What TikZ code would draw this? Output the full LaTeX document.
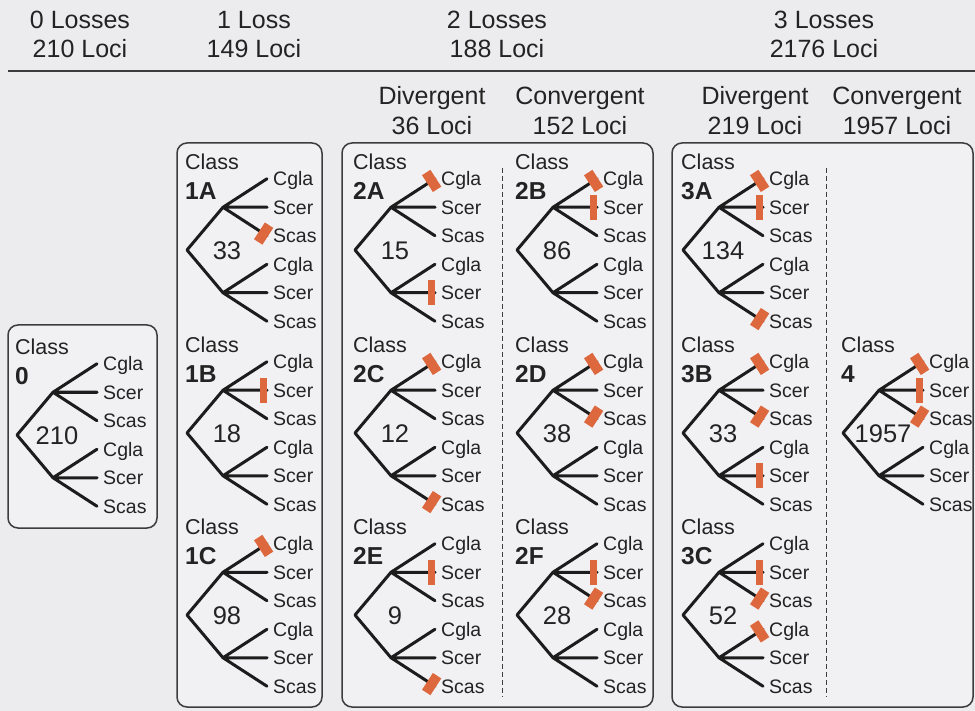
\documentclass[tikz,border=0pt]{standalone}
\usepackage{fontspec}
\setmainfont{Liberation Sans}
\usetikzlibrary{calc}
\definecolor{bg}{RGB}{236,236,238}
\definecolor{boxfill}{RGB}{241,241,243}
\definecolor{ink}{RGB}{28,28,28}
\definecolor{txt}{RGB}{35,35,35}
\definecolor{loss}{RGB}{221,104,62}
\definecolor{frame}{RGB}{60,60,60}
\tikzset{
 branch/.style={line width=3pt, draw=ink, line cap=round, line join=round},
 leaflbl/.style={anchor=west, inner sep=0pt, text height=14pt, text depth=0pt, font=\fontsize{19.5}{21}\selectfont, text=txt},
 classlbl/.style={anchor=west, inner sep=0pt, text height=15.5pt, text depth=0pt, font=\fontsize{21.5}{23}\selectfont, text=txt},
 classid/.style={anchor=west, inner sep=0pt, text height=17.5pt, text depth=0pt, font=\fontsize{24.5}{26}\selectfont\bfseries, text=txt},
 countlbl/.style={inner sep=0pt, text height=18.3pt, text depth=0pt, font=\fontsize{25.5}{27}\selectfont, text=txt},
 hdr/.style={inner sep=0pt, text height=18pt, text depth=0pt, font=\fontsize{25}{27}\selectfont, text=txt},
 groupbox/.style={draw=frame, line width=1.5pt, rounded corners=10pt, fill=boxfill},
 divider/.style={draw=frame, line width=1pt, dash pattern=on 5pt off 3pt},
 rule/.style={draw=frame, line width=2pt},
 lossslant/.style={draw=loss, line width=10pt},
 lossbar/.style={draw=loss, line width=7pt},
}
% tree: #1 name, #2 root x, #3 root y, #4 class id, #5 count
\newcommand\phylo[5]{%
\begin{scope}[shift={(#2,#3)}]
 \coordinate (#1-r) at (0,0);
 \coordinate (#1-u) at (36,-42.75);
 \coordinate (#1-d) at (36,42.75);
 \coordinate (#1-1) at (80,-71.25);
 \coordinate (#1-2) at (80,-42.75);
 \coordinate (#1-3) at (80,-14.25);
 \coordinate (#1-4) at (80,14.25);
 \coordinate (#1-5) at (80,42.75);
 \coordinate (#1-6) at (80,71.25);
 \draw[branch] (#1-u) -- (#1-r) -- (#1-d);
 \draw[branch] (#1-1) -- (#1-u) -- (#1-3) (#1-u) -- (#1-2);
 \draw[branch] (#1-4) -- (#1-d) -- (#1-6) (#1-d) -- (#1-5);
 \node[leaflbl] (#1-L1) at (86,-71.25) {Cgla};
 \node[leaflbl] (#1-L2) at (86,-42.75) {Scer};
 \node[leaflbl] (#1-L3) at (86,-14.25) {Scas};
 \node[leaflbl] (#1-L4) at (86,14.25) {Cgla};
 \node[leaflbl] (#1-L5) at (86,42.75) {Scer};
 \node[leaflbl] (#1-L6) at (86,71.25) {Scas};
 \node[classlbl] (#1-c) at (-2,-88) {Class};
 \node[classid] (#1-id) at (-2,-59) {#4};
 \node[countlbl] (#1-n) at (40,0) {#5};
\end{scope}}
% slanted loss mark: #1 tree, #2 leaf, #3 internal node
\newcommand\slantloss[3]{%
 \coordinate (#1-m#2) at ($(#1-#2)!4pt!(#1-#3)$);
 \draw[lossslant] ($(#1-m#2)!10pt!90:(#1-#3)$) -- ($(#1-m#2)!10pt!-90:(#1-#3)$);}
% Scer loss bar
\newcommand\barloss[3]{%
 \coordinate (#1-m#2) at ($(#1-#2)!4pt!(#1-#3)$);
 \draw[lossbar] ($(#1-m#2)!12.5pt!90:(#1-#3)$) -- ($(#1-m#2)!12.5pt!-90:(#1-#3)$);}
\begin{document}
\begin{tikzpicture}[x=1pt,y=-1pt]
\useasboundingbox (0,0) rectangle (975,711);
\fill[bg] (0,0) rectangle (975,711);
% header
\node[hdr] (h0a) at (80,20) {0 Losses};
\node[hdr] (h0b) at (80,49) {210 Loci};
\node[hdr] (h1a) at (254,20) {1 Loss};
\node[hdr] (h1b) at (254,49) {149 Loci};
\node[hdr] (h2a) at (497,20) {2 Losses};
\node[hdr] (h2b) at (497,49) {188 Loci};
\node[hdr] (h3a) at (824,20) {3 Losses};
\node[hdr] (h3b) at (824,49) {2176 Loci};
\coordinate (ruleL) at (8,71);
\coordinate (ruleR) at (975,71);
\draw[rule] (ruleL) -- (ruleR);
\node[hdr] (h2da) at (432,96) {Divergent};
\node[hdr] (h2db) at (432,126) {36 Loci};
\node[hdr] (h2ca) at (580,96) {Convergent};
\node[hdr] (h2cb) at (580,126) {152 Loci};
\node[hdr] (h3da) at (755,96) {Divergent};
\node[hdr] (h3db) at (755,126) {219 Loci};
\node[hdr] (h3ca) at (897,96) {Convergent};
\node[hdr] (h3cb) at (897,126) {1957 Loci};
% boxes
\draw[groupbox] (8,325) rectangle (157,528);
\draw[groupbox] (177,143) rectangle (322,707);
\draw[groupbox] (342,143) rectangle (653,707);
\draw[groupbox] (672,143) rectangle (973,707);
\coordinate (dv2t) at (502,168);
\coordinate (dv2b) at (502,697);
\coordinate (dv3t) at (826,168);
\coordinate (dv3b) at (826,697);
\draw[divider] (dv2t) -- (dv2b);
\draw[divider] (dv3t) -- (dv3b);
% trees
\phylo{t0}{17}{435}{0}{210}
\phylo{t1A}{187}{250}{1A}{33}
\phylo{t1B}{187}{433}{1B}{18}
\phylo{t1C}{187}{615}{1C}{98}
\phylo{t2A}{355}{250}{2A}{15}
\phylo{t2C}{355}{433}{2C}{12}
\phylo{t2E}{355}{615}{2E}{9}
\phylo{t2B}{517}{250}{2B}{86}
\phylo{t2D}{517}{433}{2D}{38}
\phylo{t2F}{517}{615}{2F}{28}
\phylo{t3A}{683}{250}{3A}{134}
\phylo{t3B}{683}{433}{3B}{33}
\phylo{t3C}{683}{615}{3C}{52}
\phylo{t4}{843}{433}{4}{1957}
% losses
\slantloss{t1A}{3}{u}
\barloss{t1B}{2}{u}
\slantloss{t1C}{1}{u}
\slantloss{t2A}{1}{u}
\barloss{t2A}{5}{d}
\slantloss{t2B}{1}{u}
\barloss{t2B}{2}{u}
\slantloss{t2C}{1}{u}
\slantloss{t2C}{6}{d}
\slantloss{t2D}{1}{u}
\slantloss{t2D}{3}{u}
\barloss{t2E}{2}{u}
\slantloss{t2E}{6}{d}
\barloss{t2F}{2}{u}
\slantloss{t2F}{3}{u}
\slantloss{t3A}{1}{u}
\barloss{t3A}{2}{u}
\slantloss{t3A}{6}{d}
\slantloss{t3B}{1}{u}
\slantloss{t3B}{3}{u}
\barloss{t3B}{5}{d}
\barloss{t3C}{2}{u}
\slantloss{t3C}{3}{u}
\slantloss{t3C}{4}{d}
\slantloss{t4}{1}{u}
\barloss{t4}{2}{u}
\slantloss{t4}{3}{u}
\end{tikzpicture}
\end{document}
